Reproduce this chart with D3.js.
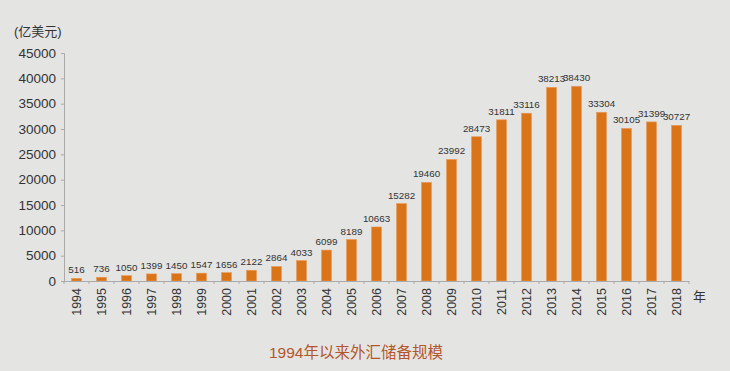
<!DOCTYPE html>
<html>
<head>
<meta charset="utf-8">
<script src="https://cdn.jsdelivr.net/npm/d3@7"></script>
<style>
  body { margin: 0; background: #e4e4e3; }
  text { font-family: "Liberation Sans", "Noto Sans CJK SC", sans-serif; }
</style>
</head>
<body>
<svg id="main-svg"></svg>
<script>
const years = ["1994","1995","1996","1997","1998","1999","2000","2001","2002","2003","2004","2005","2006",
  "2007","2008","2009","2010","2011","2012","2013","2014","2015","2016","2017","2018"];
const reserves = [516, 736, 1050, 1399, 1450, 1547, 1656, 2122, 2864, 4033, 6099, 8189, 10663,
  15282, 19460, 23992, 28473, 31811, 33116, 38213, 38430, 33304, 30105, 31399, 30727];
const yTicks = [0, 5000, 10000, 15000, 20000, 25000, 30000, 35000, 40000, 45000];

const WIDTH = 730
const HEIGHT = 371
const LEFT = 64
const RIGHT = 689
const TOP = 53
const BOTTOM = 281

const svg = d3.select("#main-svg")
  .attr("width", WIDTH)
  .attr("height", HEIGHT);

svg.append("rect")
  .attr("width", WIDTH)
  .attr("height", HEIGHT)
  .attr("fill", "#e4e4e3");

const x = d3.scaleBand().domain(years).range([LEFT, RIGHT]).paddingInner(0.6).paddingOuter(0.3);
const y = d3.scaleLinear().domain([0, 45000]).range([BOTTOM, TOP]);

// y axis
const yAxis = svg.append("g")
  .attr("transform", `translate(${LEFT},0)`)
  .call(d3.axisLeft(y).tickValues(yTicks).tickSize(3).tickPadding(5).tickFormat(d3.format("d")));
yAxis.select(".domain").attr("stroke", "#aaa");
yAxis.selectAll(".tick line").attr("stroke", "#aaa");
yAxis.selectAll("text").attr("font-size", 13.5).attr("fill", "#333");

// bars
svg.selectAll(".bar")
  .data(reserves)
  .enter()
  .append("rect")
  .attr("class", "bar")
  .attr("x", (_, i) => x(years[i]))
  .attr("width", x.bandwidth())
  .attr("y", d => y(d))
  .attr("height", d => BOTTOM - y(d))
  .attr("fill", "#d97518")
  .attr("stroke", "#e8995a")
  .attr("stroke-width", 0.6);

// value labels
svg.selectAll(".val")
  .data(reserves)
  .enter()
  .append("text")
  .attr("class", "val")
  .attr("x", (_, i) => x(years[i]) + x.bandwidth() / 2)
  .attr("y", d => y(d) - 5)
  .attr("text-anchor", "middle")
  .attr("font-size", 9.8)
  .attr("fill", "#333")
  .text(d => d);

// x axis
const xAxisLine = svg.append("g");
xAxisLine.append("line")
  .attr("x1", LEFT).attr("x2", RIGHT)
  .attr("y1", BOTTOM + 0.5).attr("y2", BOTTOM + 0.5)
  .attr("stroke", "#aaa");
xAxisLine.selectAll(".xt")
  .data(d3.range(years.length + 1))
  .enter()
  .append("line")
  .attr("x1", i => LEFT + i * (RIGHT - LEFT) / years.length)
  .attr("x2", i => LEFT + i * (RIGHT - LEFT) / years.length)
  .attr("y1", BOTTOM)
  .attr("y2", BOTTOM + 3)
  .attr("stroke", "#aaa");

svg.selectAll(".yr")
  .data(years)
  .enter()
  .append("text")
  .attr("class", "yr")
  .attr("transform", d => `translate(${x(d) + x.bandwidth() / 2 + 4.5},${BOTTOM + 7}) rotate(-90)`)
  .attr("text-anchor", "end")
  .attr("font-size", 12.5)
  .attr("fill", "#333")
  .text(d => d);

svg.append("text")
  .attr("x", 693)
  .attr("y", 301)
  .attr("font-size", 13)
  .attr("fill", "#333")
  .attr("font-family", "Noto Sans CJK SC")
  .text("年");

svg.append("text")
  .attr("x", 14)
  .attr("y", 36)
  .attr("font-size", 13)
  .attr("fill", "#333")
  .attr("font-family", "Noto Sans CJK SC")
  .text("(亿美元)");

svg.append("text")
  .attr("x", 356)
  .attr("y", 358)
  .attr("text-anchor", "middle")
  .attr("font-size", 15.5)
  .attr("fill", "#b3562d")
  .attr("font-family", "Noto Sans CJK SC")
  .text("1994年以来外汇储备规模");
</script>
</body>
</html>
